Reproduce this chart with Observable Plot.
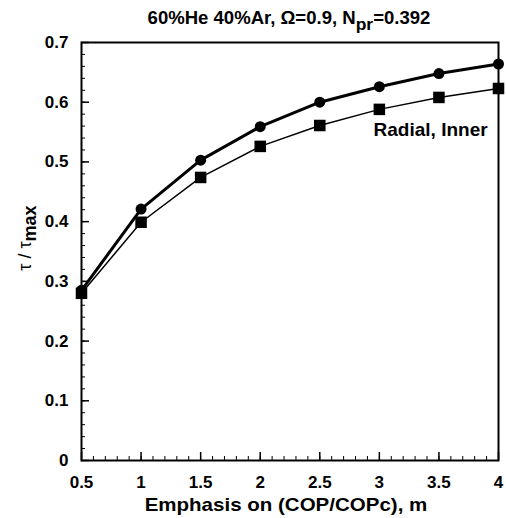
<!DOCTYPE html>
<html><head><meta charset="utf-8">
<script src="https://cdn.jsdelivr.net/npm/d3@7"></script>
<script src="https://cdn.jsdelivr.net/npm/@observablehq/plot@0.6"></script>
<style>body{margin:0;background:#fff}</style>
</head><body><div id="chart"></div>
<script>
const mValues = [0.5, 1, 1.5, 2, 2.5, 3, 3.5, 4];
const seriesCircle = [0.285, 0.421, 0.503, 0.559, 0.600, 0.626, 0.648, 0.664];
const seriesSquare = [0.280, 0.399, 0.474, 0.526, 0.561, 0.588, 0.608, 0.623];
const xTicks = [0.5, 1, 1.5, 2, 2.5, 3, 3.5, 4];
const xTickLabels = ["0.5", "1", "1.5", "2", "2.5", "3", "3.5", "4"];
const yTicks = [0, 0.1, 0.2, 0.3, 0.4, 0.5, 0.6, 0.7];
const yTickLabels = ["0", "0.1", "0.2", "0.3", "0.4", "0.5", "0.6", "0.7"];
const annotation = [{x: 3.43, y: 0.553, text: "Radial, Inner"}];

const circ = mValues.map((m, i) => ({m, v: seriesCircle[i]}));
const sq = mValues.map((m, i) => ({m, v: seriesSquare[i]}));
const xMinor = d3.range(0.5, 4.0001, 0.1).map(d => +d.toFixed(2));
const yMinor = d3.range(0, 0.7001, 0.02).map(d => +d.toFixed(2));
const font = "'Liberation Sans', Arial, Helvetica, sans-serif";

const plot = Plot.plot({
  width: 506, height: 518,
  marginLeft: 81, marginRight: 8, marginTop: 42, marginBottom: 58,
  style: {fontFamily: font, fontSize: "17px", fontWeight: "bold", color: "#000", background: "#fff", overflow: "visible"},
  x: {domain: [0.5, 4]},
  y: {domain: [0, 0.7]},
  marks: [
    Plot.axisX({ticks: xMinor, tickSize: -4, tickFormat: () => "", label: null, strokeWidth: 1}),
    Plot.axisX({ticks: xTicks, tickSize: -8, tickFormat: () => "", label: null, strokeWidth: 1.5}),
    Plot.axisX({ticks: xTicks, tickSize: 0, tickPadding: 15, tickFormat: (d, i) => xTickLabels[i], label: null, fontSize: 17, ariaLabel: "xlabels"}),
    Plot.axisY({ticks: yMinor, tickSize: -4, tickFormat: () => "", label: null, strokeWidth: 1}),
    Plot.axisY({ticks: yTicks, tickSize: -8, tickFormat: () => "", label: null, strokeWidth: 1.5}),
    Plot.axisY({ticks: yTicks, tickSize: 0, tickPadding: 13, tickFormat: (d, i) => yTickLabels[i], label: null, fontSize: 17, ariaLabel: "ylabels"}),
    Plot.frame({stroke: "#000", strokeWidth: 2}),
    Plot.line(sq, {x: "m", y: "v", stroke: "#000", strokeWidth: 1.5}),
    Plot.line(circ, {x: "m", y: "v", stroke: "#000", strokeWidth: 3}),
    Plot.dot(sq, {x: "m", y: "v", symbol: "square", r: 6.5, fill: "#000", stroke: "none"}),
    Plot.dot(circ, {x: "m", y: "v", symbol: "circle", r: 5.5, fill: "#000", stroke: "none"}),
    Plot.text(annotation, {x: "x", y: "y", text: "text", fontSize: 19, fontWeight: "bold", textAnchor: "middle", fill: "#000", ariaLabel: "annot"})
  ]
});
document.getElementById("chart").appendChild(plot);

function stretch(nodes, s, anchor) {
  nodes.each(function () {
    const b = this.getBBox();
    const cx = anchor === "end" ? b.x + b.width : anchor === "start" ? b.x : b.x + b.width / 2;
    const tr = this.getAttribute("transform") || "";
    this.setAttribute("transform", `${tr} translate(${cx},0) scale(${s},1) translate(${-cx},0)`);
  });
}

const svg = d3.select(plot);
const t = svg.append("text").attr("x", 289).attr("y", 24).attr("text-anchor", "middle")
  .style("font-family", font).style("font-size", "18px").style("font-weight", "bold");
t.append("tspan").text("60%He 40%Ar, \u03A9=0.9, N");
t.append("tspan").attr("dy", 6).attr("font-size", "17px").text("pr");
t.append("tspan").attr("dy", -6).text("=0.392");

const xl = svg.append("text").attr("x", 286).attr("y", 511).attr("text-anchor", "middle")
  .style("font-family", font).style("font-size", "18px").style("font-weight", "bold")
  .text("Emphasis on (COP/COPc), m");

const yl = svg.append("text").attr("transform", "translate(31,238) rotate(-90)").attr("text-anchor", "middle")
  .style("font-family", font).style("font-size", "18px").style("font-weight", "bold");
yl.append("tspan").style("font-weight", "normal").text("\u03C4 / \u03C4");
yl.append("tspan").attr("dy", 5).text("max");

stretch(svg.selectAll("g[aria-label='xlabels'] text"), 1.15, "middle");
stretch(svg.selectAll("g[aria-label='ylabels'] text"), 1.15, "end");
stretch(svg.selectAll("g[aria-label='annot'] text"), 1.08, "middle");
stretch(t, 1.03, "middle");
stretch(xl, 1.14, "middle");
</script></body></html>
